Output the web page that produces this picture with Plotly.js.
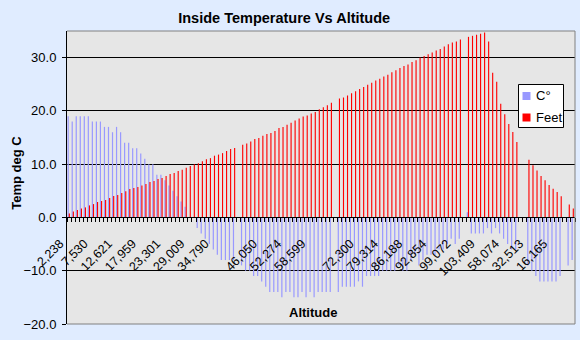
<!DOCTYPE html>
<html>
<head>
<meta charset="utf-8">
<script src="https://cdn.plot.ly/plotly-3.0.1.min.js"></script>
<style>
  html, body { margin: 0; padding: 0; background: #E0ECFF; }
  #chart { width: 580px; height: 340px; }
</style>
</head>
<body>
<div id="chart"></div>
<script>
// ---- Data ----
const chartTitle = "Inside Temperature Vs Altitude";
const xTitle = "Altitude";
const yTitle = "Temp deg C";
const seriesNames = ["C°", "Feet"];
const seriesColors = ["#9999FF", "#FF0000"];

// Altitude in feet for each logged row (null = blank row)
const altitudeFt = [
  2238, 3400, 4150, 5090, 5660, 6790, 7530, 8680, 9250, 9810,
  10940, 12080, 12621, 13770, 14720, 16040, 16600, 17170, 17959, 18870,
  20000, 20570, 21700, 22270, 23301, 24530, 25100, 26230, 26800, 27930,
  29009, 29900, 30570, 31700, 32830, 33400, 34790, 35400, 36230, 37360,
  38500, 39060, null, 40950, 41700, 42830, 44160, 44720, 46050, 46990,
  47550, 48680, 50380, 50950, 52274, 53400, 54530, 55670, 56800, 57370,
  58599, 59440, 60950, 62080, 63210, 64540, null, 66990, 67550, 68690,
  70010, 71140, 72300, 73400, 74730, 75860, 77180, 78120, 79314, 80390,
  81710, 82840, 84160, 85290, 86188, 87560, 88500, 90010, 90950, 91900,
  92854, 93970, 94920, 96240, 97560, 98500, 99072, 100200, null, 101710,
  102280, 102900, 103409, 104160, 99070, 81520, 76420, 63970, 58074, 52650,
  48120, 42460, null, null, 32513, 29440, 26420, 23400, 20950, 18300,
  16165, 14340, 11890, null, 7360, 5090
];

// Inside temperature in deg C for each row (null = blank row)
const tempC = [
  19, 18, 19, 19, 19, 19, 18, 18, 18, 17,
  17, 16, 17, 16, 14, 14, 13, 13, 12, 11,
  10, 10, 8, 8, 7, 6, 5, 4, 3, 2,
  0, 0, -2, -3, -4, -5, -6, -7, -8, -8,
  -8, -8, null, -9, -10, -10, -11, -11, -12, -13,
  -14, -14, -14, -15, -14, -14, -15, -15, -14, -15,
  -14, -15, -14, -14, -14, -14, null, -14, -13, -13,
  -13, -13, -12, -13, -11, -11, -11, -11, -10, -10,
  -10, -10, -9, -10, -10, -8, -7, -9, -8, -7,
  -7, -7, -6, -6, -5, -4, -5, -4, null, 1,
  -3, -3, -3, -3, -2, -3, -2, -3, -4, -5,
  -6, -6, null, null, -9, -10, -11, -12, -12, -12,
  -12, -12, -11, null, -9, -8
];

const yTickValues = [-20, -10, 0, 10, 20, 30];
const labelStep = 6; // a category label is shown on every 6th row

// ---- Build the chart ----
const W = 580, H = 340;
const M = { l: 67, r: 5, t: 31, b: 16 };
const PW = W - M.l - M.r, PH = H - M.t - M.b;
const px = x => (x - M.l) / PW;          // page pixel -> paper x
const py = y => (H - M.b - y) / PH;      // page pixel -> paper y

const rows = altitudeFt.map((_, i) => i);
const labelRows = rows.filter(i => i % labelStep === 0);
const labelText = labelRows.map(i =>
  altitudeFt[i] == null ? "" : altitudeFt[i].toLocaleString("en-US"));

const FONT = "Liberation Sans, Arial, sans-serif";

const traces = [
  {
    type: "bar", name: seriesNames[0], x: rows, y: tempC,
    xaxis: "x", yaxis: "y",
    offset: -0.36, width: 0.3,
    marker: { color: seriesColors[0], line: { width: 0 } },
    hoverinfo: "skip"
  },
  {
    type: "bar", name: seriesNames[1], x: rows, y: altitudeFt,
    xaxis: "x", yaxis: "y2",
    offset: -0.06, width: 0.28,
    marker: { color: seriesColors[1], line: { width: 0 } },
    hoverinfo: "skip"
  }
];

// Legend box (Excel style), drawn as shapes + real text
const legendShapes = [
  { type: "rect", xref: "paper", yref: "paper",
    x0: px(518.5), x1: px(563.5), y0: py(127.5), y1: py(84.5),
    fillcolor: "#FFFFFF", line: { color: "#000", width: 1 }, layer: "above" }
];
const legendAnnots = [];
const legendRowsY = [96, 117.5];
seriesNames.forEach((name, k) => {
  const cy = legendRowsY[k];
  legendShapes.push({ type: "rect", xref: "paper", yref: "paper",
    x0: px(522.5), x1: px(530.5), y0: py(cy + 4), y1: py(cy - 4),
    fillcolor: seriesColors[k], line: { width: 0 }, layer: "above" });
  legendAnnots.push({ text: name, xref: "paper", yref: "paper",
    x: px(533.5), y: py(cy), xanchor: "left", yanchor: "middle",
    showarrow: false, font: { family: FONT, size: 13, color: "#000" } });
});

const layout = {
  width: W, height: H,
  margin: { l: M.l, r: M.r, t: M.t, b: M.b, pad: 0 },
  paper_bgcolor: "#E0ECFF",
  plot_bgcolor: "#E6E6E6",
  font: { family: FONT, size: 13, color: "#000" },
  showlegend: false,
  barmode: "overlay",
  title: {
    text: "<b>" + chartTitle + "</b>",
    font: { family: FONT, size: 14.5, color: "#000" },
    x: 0.49, xref: "container", xanchor: "center",
    y: 1 - 18 / H, yref: "container", yanchor: "middle"
  },
  xaxis: {
    type: "linear",
    range: [-0.5, rows.length - 0.5],
    anchor: "free",
    position: 20 / 55,
    showline: true, linecolor: "#000", linewidth: 1,
    showgrid: false, zeroline: false,
    tickmode: "array", tickvals: labelRows, ticktext: labelText,
    tickangle: -45,
    ticks: "",
    ticklabelstandoff: 13,
    ticklabelshift: -9,
    tickfont: { family: FONT, size: 12.5, color: "#000" },
    minor: { tick0: -0.5, dtick: 1, ticks: "outside", ticklen: 4, tickcolor: "#000", tickwidth: 1, showgrid: false }
  },
  yaxis: {
    range: [-20, 35],
    tickmode: "array", tickvals: yTickValues,
    tickformat: ".1f",
    ticks: "outside", ticklen: 4, tickcolor: "#000",
    ticklabelstandoff: 3,
    showline: true, linecolor: "#000", linewidth: 1,
    showgrid: true, gridcolor: "#000", gridwidth: 1,
    zeroline: false,
    tickfont: { family: FONT, size: 13, color: "#000" }
  },
  yaxis2: {
    overlaying: "y",
    range: [-60000, 105000],
    visible: false,
    showgrid: false, zeroline: false
  },
  annotations: [
    {
      text: "<b>" + xTitle + "</b>", xref: "paper", yref: "paper",
      x: px(312.5), y: py(312.7),
      xanchor: "center", yanchor: "middle", showarrow: false,
      font: { family: FONT, size: 13, color: "#000" }
    },
    {
      text: "<b>" + yTitle + "</b>", xref: "paper", yref: "paper",
      x: px(16.2), y: py(172.5),
      xanchor: "center", yanchor: "middle", showarrow: false, textangle: -90,
      font: { family: FONT, size: 13, color: "#000" }
    }
  ].concat(legendAnnots),
  shapes: [
    {
      type: "path", xref: "paper", yref: "paper",
      path: "M 0 1 L 1 1 L 1 0 L 0 0",
      line: { color: "#808080", width: 1 }, layer: "above"
    }
  ].concat(legendShapes)
};

Plotly.newPlot("chart", traces, layout, { displayModeBar: false, staticPlot: true });
</script>
</body>
</html>
